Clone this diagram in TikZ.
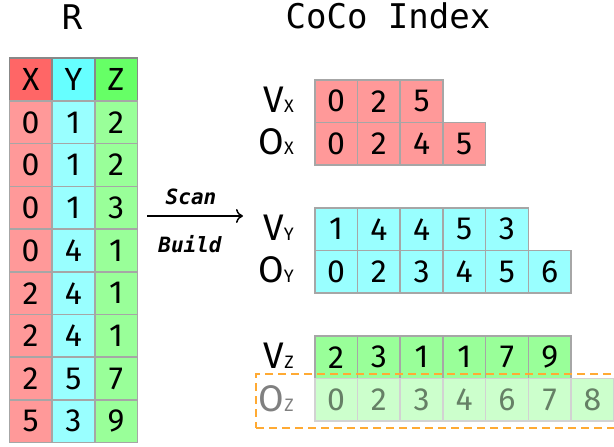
\documentclass[tikz,border=0pt]{standalone}
\usepackage{fontspec}
\setmainfont{Fira Sans}
\newfontfamily\monof{DejaVu Sans Mono}[BoldFont=DejaVu Sans Mono Bold, BoldItalicFont=DejaVu Sans Mono Bold Oblique, ItalicFont=DejaVu Sans Mono Oblique]
\usetikzlibrary{arrows.meta}
\definecolor{xh}{HTML}{FF6666}
\definecolor{xd}{HTML}{FF9999}
\definecolor{yh}{HTML}{66FFFF}
\definecolor{yd}{HTML}{99FFFF}
\definecolor{zh}{HTML}{66FF66}
\definecolor{zd}{HTML}{99FF99}
\definecolor{zf}{HTML}{CCFFCC}
\definecolor{bord}{HTML}{A6A6A6}
\definecolor{hbord}{HTML}{888888}
\definecolor{fbord}{HTML}{D2D2D2}
\definecolor{ftext}{HTML}{668066}
\definecolor{flabel}{HTML}{808080}
\definecolor{dashc}{HTML}{FFAA33}
\begin{document}
\begin{tikzpicture}[x=1bp,y=-1bp,
  cell/.style={draw=bord, line width=1.6bp, minimum width=42.7bp, minimum height=42.7bp,
    inner sep=0, anchor=north west, font=\fontsize{32bp}{36bp}\selectfont},
  hcell/.style={cell, draw=hbord},
  fcell/.style={cell, draw=fbord, fill=zf, text=ftext},
  lab/.style={anchor=base east, inner sep=0, font=\fontsize{37bp}{40bp}\selectfont},
  title/.style={anchor=base, inner sep=0, font=\monof\fontsize{34bp}{38bp}\selectfont},
  arrlab/.style={anchor=base, inner sep=0, font=\monof\bfseries\itshape\fontsize{21bp}{24bp}\selectfont},
  ozbox/.style={draw=dashc, line width=2bp, dash pattern=on 8bp off 5bp, anchor=north west,
    minimum width=365bp, minimum height=54bp, inner sep=0}]
\useasboundingbox (0,0) rectangle (614,447);
\newcommand{\sm}[1]{{\fontsize{18bp}{20bp}\selectfont #1}}
% titles
\node[title] (tR) at (72,30) {R};
\node[title] (tC) at (388,29) {CoCo Index};
% relation R
\foreach \c/\hc/\t in {0/xh/X,1/yh/Y,2/zh/Z}
  \node[hcell, fill=\hc] (R-h-\c) at ({8.5+42.7*\c},57.5) {\t};
\foreach \r/\a/\b/\cc in {1/0/1/2,2/0/1/2,3/0/1/3,4/0/4/1,5/2/4/1,6/2/4/1,7/2/5/7,8/5/3/9}{
  \node[cell, fill=xd] (R-\r-0) at (8.5,{57.5+42.7*\r}) {\a};
  \node[cell, fill=yd] (R-\r-1) at (51.2,{57.5+42.7*\r}) {\b};
  \node[cell, fill=zd] (R-\r-2) at (93.9,{57.5+42.7*\r}) {\cc};
}
% arrow
\coordinate (as) at (147,216);
\coordinate (ae) at (243,216);
\draw[line width=1.5bp, -{To[length=7bp, width=14bp, line width=1.5bp]}] (as) -- (ae);
\node[arrlab] (scan) at (191,205) {Scan};
\node[arrlab] (build) at (190,253) {Build};
% CoCo X
\foreach \v [count=\i from 0] in {0,2,5}
  \node[cell, fill=xd] (VX-\i) at ({314+42.7*\i},79) {\v};
\foreach \v [count=\i from 0] in {0,2,4,5}
  \node[cell, fill=xd] (OX-\i) at ({314+42.7*\i},121.7) {\v};
\node[lab] (lVX) at (294,112.5) {V\sm{X}};
\node[lab] (lOX) at (294,155) {O\sm{X}};
% CoCo Y
\foreach \v [count=\i from 0] in {1,4,4,5,3}
  \node[cell, fill=yd] (VY-\i) at ({314+42.7*\i},207) {\v};
\foreach \v [count=\i from 0] in {0,2,3,4,5,6}
  \node[cell, fill=yd] (OY-\i) at ({314+42.7*\i},249.7) {\v};
\node[lab] (lVY) at (294,240.5) {V\sm{Y}};
\node[lab] (lOY) at (294,283) {O\sm{Y}};
% CoCo Z
\foreach \v [count=\i from 0] in {2,3,1,1,7,9}
  \node[cell, fill=zd] (VZ-\i) at ({314+42.7*\i},335) {\v};
\foreach \v [count=\i from 0] in {0,2,3,4,6,7,8}
  \node[fcell] (OZ-\i) at ({314+42.7*\i},377.7) {\v};
\node[lab] (lVZ) at (294,368.5) {V\sm{Z}};
\node[lab, text=flabel] (lOZ) at (294,411) {O\sm{Z}};
% dashed box
\node[ozbox] (box) at (255,373) {};
\end{tikzpicture}
\end{document}
